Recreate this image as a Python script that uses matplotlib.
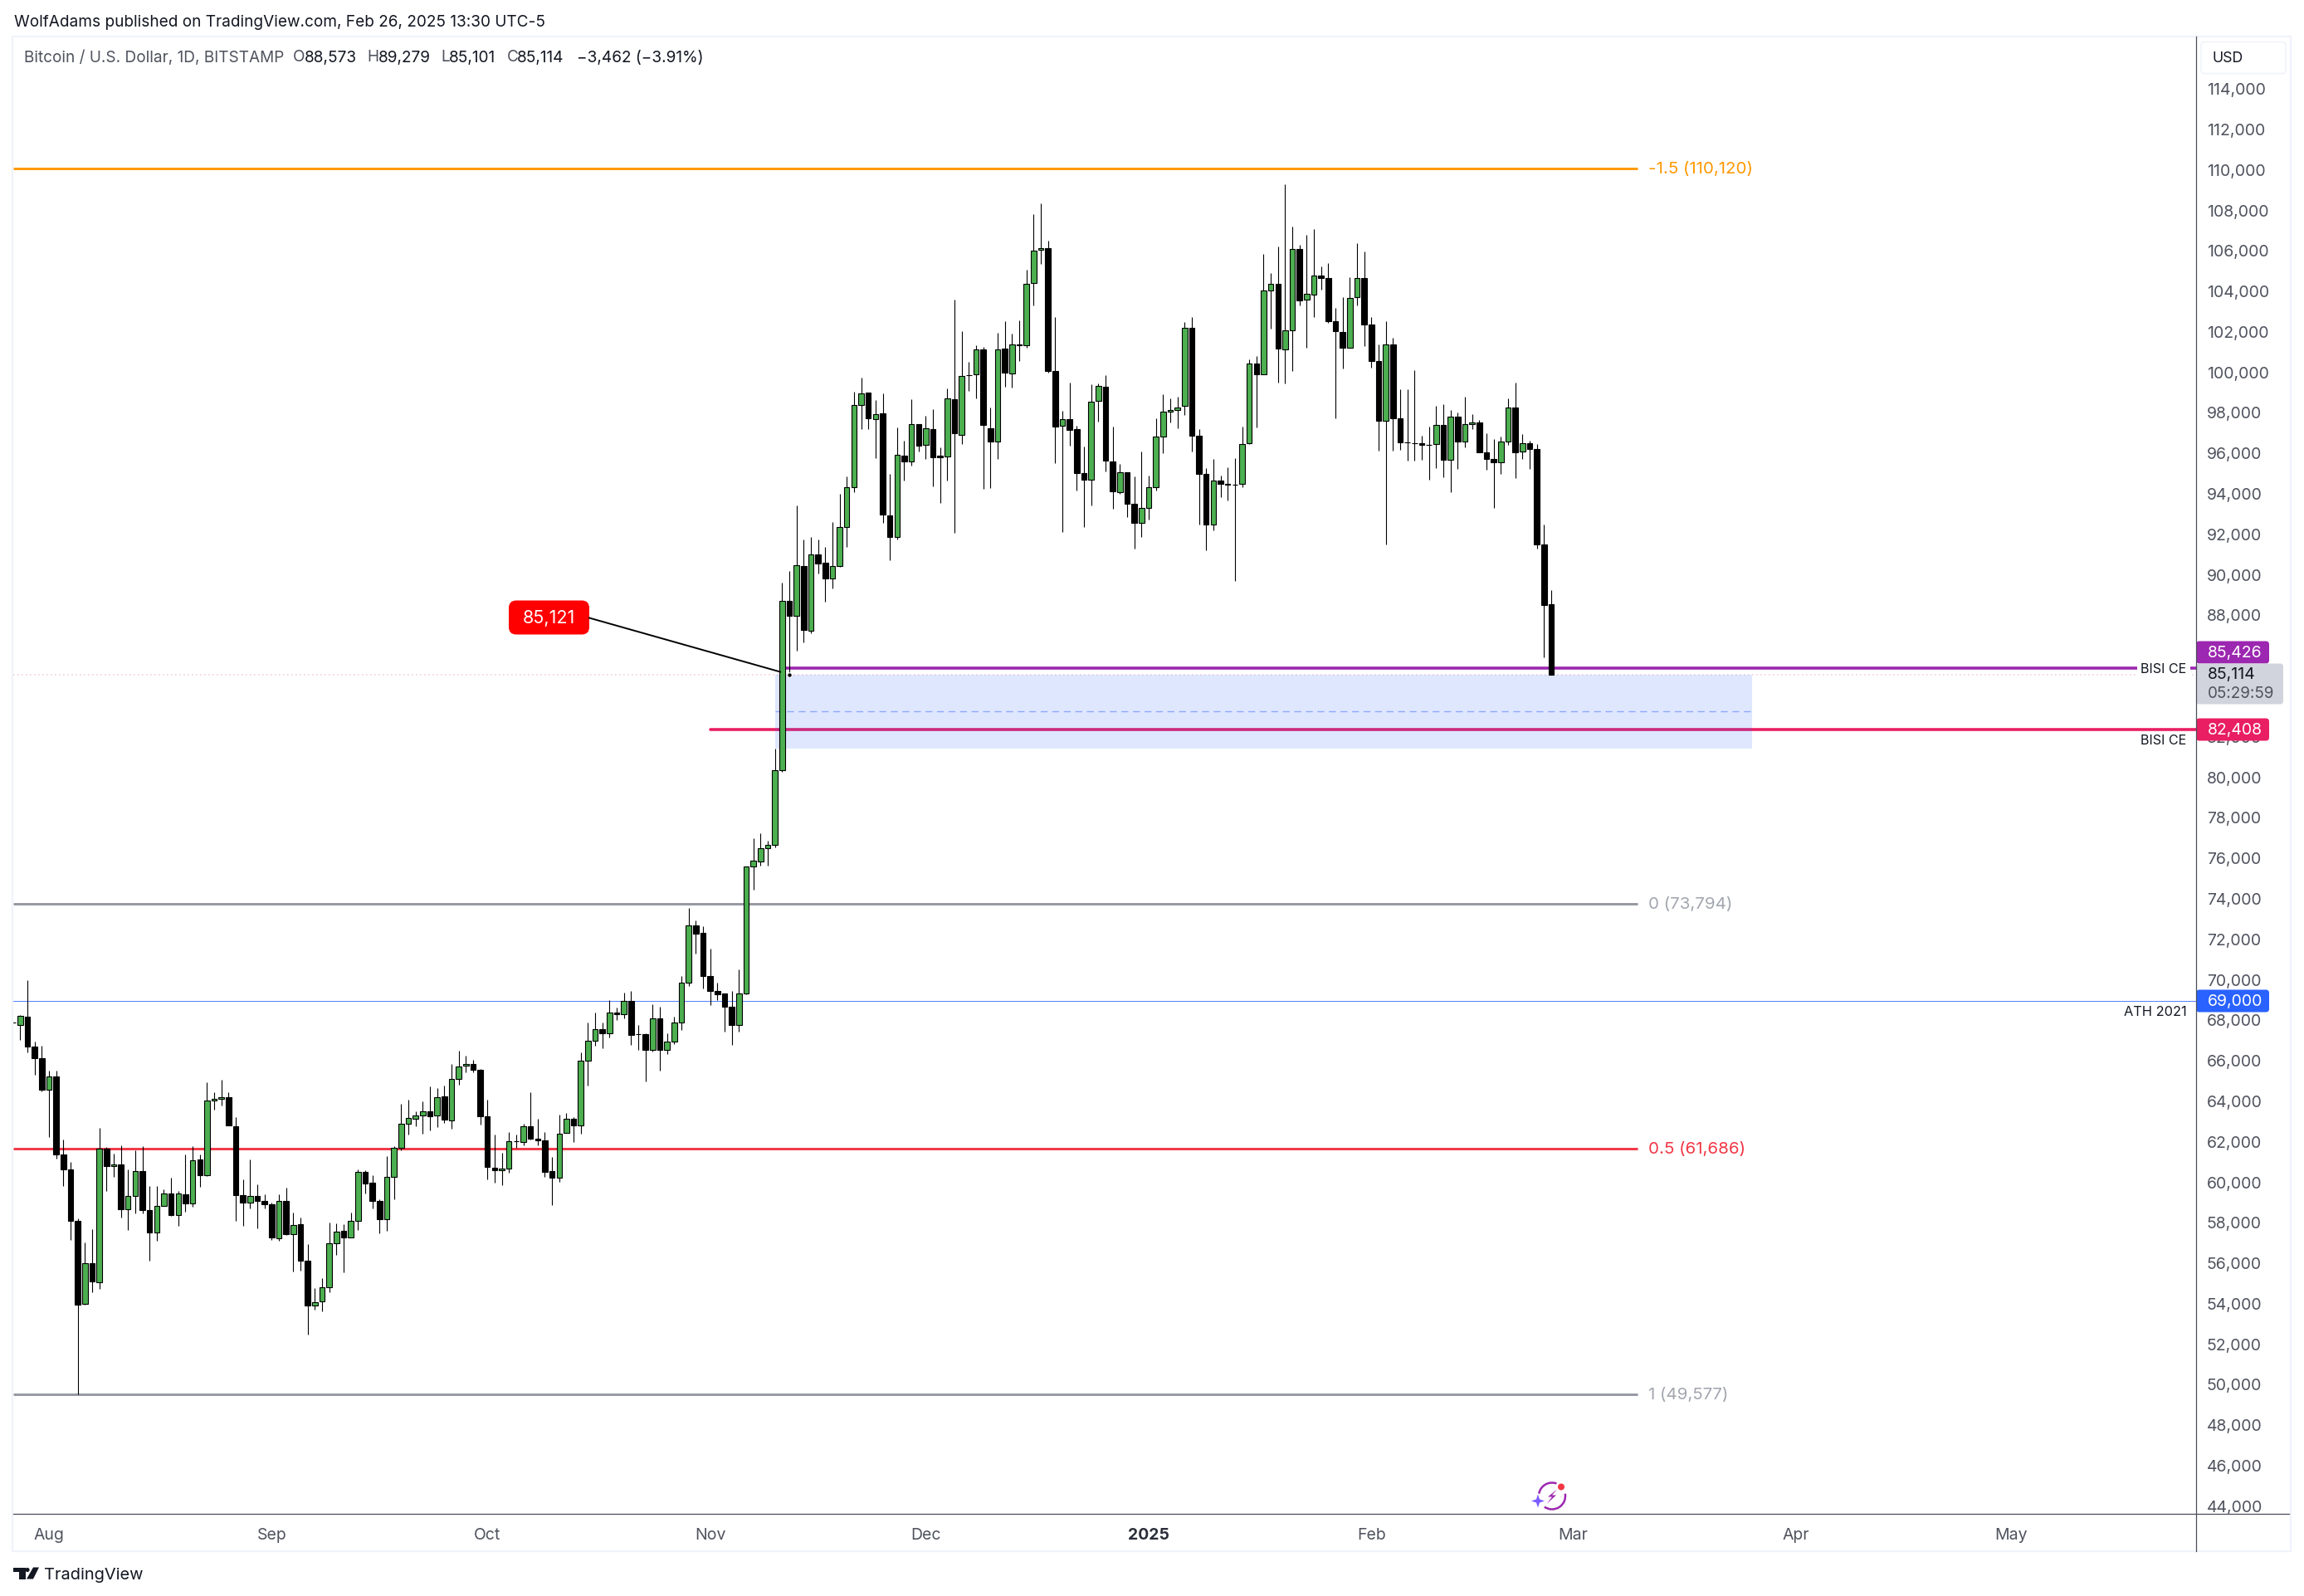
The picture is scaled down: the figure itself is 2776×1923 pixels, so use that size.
import numpy as np
import pandas as pd
import matplotlib
matplotlib.use('Agg')
import matplotlib.pyplot as plt
import matplotlib.dates as mdates
from matplotlib.patches import FancyBboxPatch, Rectangle, Arc, Circle, Polygon

plt.rcParams['font.family'] = ['Inter', 'DejaVu Sans']

W, H = 2776, 1924
SHIFT = 1.5  # whole layout sits this many pixels lower than first measured

# daily candles, the first one is cut off by the left edge of the pane
opens = [67930,
    67810,68230,66750,66180,64610,65280,61400,60670,58130,54040,
    56040,55090,61720,60840,60920,58700,59360,60600,58660,57560,
    58870,59480,58420,59440,58990,61160,60380,64070,64150,64240,
    62810,59410,59040,59360,59140,58970,57270,59120,57470,57960,
    56160,53950,54160,54840,57030,57640,57320,58140,60550,60020,
    59120,58220,60310,61740,62930,63170,63340,63560,63340,64300,
    63090,65160,65800,65890,65610,63310,60770,60630,60720,62080,
    62040,62820,62200,62120,60610,60270,62490,63190,62860,66040,
    67030,67610,67400,68430,68340,69010,67370,67370,66580,68150,
    66580,67000,67930,69910,72740,72340,70210,69470,69350,68720,
    67820,69370,75650,75880,76540,76710,80390,88750,88020,90490,
    87290,91060,90650,89870,90470,92410,94380,98440,99030,97740,
    98030,92990,91920,95940,95650,97500,96470,97250,95910,95900,
    98730,96960,99920,99940,101180,97290,96640,101230,100000,101430,
    101390,104460,106090,106180,100130,97400,97740,97250,95080,94740,
    98630,99340,95650,94120,95120,93560,92610,93360,94380,96870,
    98110,98190,98400,102250,96920,95040,92520,94710,94550,94500,
    94530,96550,100490,99940,104090,104420,101190,102130,106140,103640,
    103890,104830,104710,102580,102050,101270,103770,104710,102410,100610,
    97660,101430,97780,96600,96550,96530,96470,96500,97460,95730,
    97870,96620,97480,97580,96080,95780,95600,96620,98320,96130,
    96550,96270,91530,88573]
highs = [67930,
    68320,70020,67010,66790,65560,65560,62150,61060,58250,57050,
    57740,62740,61770,61470,61880,60690,61600,61810,59870,59840,
    59700,60280,59630,61430,61840,61430,65000,64510,65120,64510,
    63240,60190,61180,59920,59430,59050,59430,59780,58530,58300,
    57000,54820,55310,58070,58030,57980,58560,60690,60650,60410,
    59220,61350,61810,63900,64140,63560,64020,64760,64680,64800,
    65870,66520,66280,66070,65650,64140,62380,61480,62510,62380,
    62940,64470,63190,62510,61280,63390,63450,63280,66470,67920,
    68410,67920,69020,68690,69390,69510,67790,67420,68820,68730,
    67380,68240,70210,73610,72960,72670,71600,69880,69350,69470,
    70540,75650,77020,77260,76930,81480,89650,90250,93490,91800,
    91900,91770,91440,92630,94060,94920,99100,99800,99030,98660,
    98990,95010,97330,96650,98730,97500,97880,98210,96320,99260,
    103640,102090,100580,101390,101280,98290,101980,102590,101940,102630,
    105130,107840,108370,106530,102760,98130,99520,97390,96400,99440,
    99480,99890,97350,95530,95120,94890,96120,94960,97760,98950,
    98740,98820,102510,102760,97260,95330,95780,94960,95370,95820,
    97350,100690,100860,105910,104930,106270,109340,107260,106350,106840,
    107140,105260,105420,103210,103740,104760,106430,106030,102760,101440,
    102550,101770,99190,99190,100170,96900,97350,98370,98490,98170,
    98080,98860,97960,97710,97020,96730,96860,98770,99520,96980,
    96650,96490,92510,89279]
lows = [67930,
    67090,66450,65340,64530,62270,61200,59850,57180,49580,53990,
    54600,54770,59600,60290,58320,57690,58490,58490,56160,57150,
    58870,58400,57880,58580,58820,59800,60330,63630,63830,62840,
    58120,57880,58750,57760,58760,57200,57150,57420,55620,55670,
    52540,53730,53650,54600,56450,55590,57320,57680,59480,58750,
    57510,57630,59190,61600,62390,62810,62440,62600,62770,62970,
    62680,64860,65470,65470,62890,60180,60020,59900,60510,61730,
    61850,62140,61850,60290,58910,60060,62490,62050,62460,64810,
    66770,66660,67190,68050,68130,66820,66580,65020,66490,65550,
    66370,66860,67560,69730,71330,69610,68790,69020,67480,66820,
    67480,69330,74490,75680,75680,76580,80310,85120,86300,86700,
    87160,90090,88710,89390,90420,91420,94120,97240,97240,95800,
    92610,90760,91790,94700,95430,96130,95760,94410,93590,94700,
    92120,96490,99120,98740,94290,94330,95760,99330,99290,100620,
    101250,103340,105380,100020,95560,92160,96420,94210,92400,93470,
    97610,95150,93300,94040,92890,91340,91910,92770,94210,96050,
    97570,97280,97930,96130,92520,91250,92240,93860,93710,89750,
    94370,96500,97320,99940,102220,99530,99490,100110,103340,101250,
    102770,104120,102480,97770,100230,101270,103340,101340,100270,96170,
    91540,96170,96210,95680,95680,95720,94740,95310,94860,94120,
    95270,96340,97240,96090,95230,93340,95020,96460,94820,95760,
    95270,91340,85950,85101]
closes = [67930,
    68270,66750,66160,64610,65280,61400,60670,58120,53990,56040,
    55130,61700,60840,60920,58700,59360,60600,58660,57560,58870,
    59480,58410,59480,58990,61130,60380,64090,64150,64240,62850,
    59390,59020,59360,59100,58950,57300,59120,57470,57930,56160,
    53940,54110,54840,57030,57620,57300,58140,60550,60000,59100,
    58200,60290,61740,62930,63220,63350,63560,63300,64250,63130,
    65160,65770,65890,65590,63300,60800,60630,60730,62080,62080,
    62820,62190,62110,60550,60270,62450,63190,62850,66060,67040,
    67610,67400,68430,68340,69010,67310,67370,66580,68150,66580,
    67000,67940,69910,72740,72310,70210,69490,69320,68710,67810,
    69380,75650,75920,76540,76710,80400,88750,88020,90520,87320,
    91060,90600,89870,90490,92410,94370,98440,99010,97770,97990,
    93020,91910,95980,95640,97500,96420,97290,95840,95840,98770,
    97030,99870,99920,101180,97440,96620,101180,100020,101420,101380,
    104420,106060,106180,100130,97360,97740,97200,95070,94740,98590,
    99370,95680,94160,95120,93550,92610,93340,94370,96870,98100,
    98180,98320,102250,96910,95020,92520,94710,94530,94480,94500,
    96510,100490,99940,104090,104420,101210,102130,106140,103590,103930,
    104830,104700,102560,102070,101250,103730,104710,102400,100600,97650,
    101430,97770,96580,96590,96550,96460,96470,97460,95720,97870,
    96620,97500,97580,96090,95760,95600,96640,98320,96090,96550,
    96250,91540,88570,85114]

fib_levels = [110120, 73794, 61686, 49577]
fib_labels = ['-1.5 (110,120)', '0 (73,794)', '0.5 (61,686)', '1 (49,577)']
fib_colors = ['#FF9800', '#9598A1', '#F23645', '#9598A1']
fib_text_colors = ['#FF9800', '#A3A6AF', '#F23645', '#A3A6AF']

ath_level = 69000
last_price = 85114
bisi_upper = 85426
bisi_lower = 82408
zone_top = 85110
zone_bottom = 81470
zone_mid = 83320
wick_low = 85121

price_ticks = list(range(44000, 116000, 2000))
hidden_ticks = [84000, 86000]  # covered by the price tags
month_ticks = ['2024-08-01', '2024-09-01', '2024-10-01', '2024-11-01', '2024-12-01',
               '2025-01-01', '2025-02-01', '2025-03-01', '2025-04-01', '2025-05-01']
month_labels = ['Aug', 'Sep', 'Oct', 'Nov', 'Dec', '2025', 'Feb', 'Mar', 'Apr', 'May']

opens, highs, lows, closes = map(np.array, (opens, highs, lows, closes))
dates = pd.date_range('2024-07-27', periods=len(opens))
x = mdates.date2num(dates)
day0 = x[1]

fig = plt.figure(figsize=(W / 100, H / 100), dpi=100, facecolor='white')
ax = fig.add_axes([16 / W, (H - 1823 - SHIFT) / H, (2645.7 - 16) / W, (1823 - 43) / H])
ax.set_xlim(day0 - 0.958, day0 + 302.7)
ax.set_ylim(43687, 116650)

left, right = ax.get_xlim()

# levels sit under the candles, the zone is blended over the pink line
ax.plot([left, right], [ath_level, ath_level], color='#2962FF', lw=0.72, alpha=0.8, zorder=1)
ax.plot([left, right], [last_price, last_price], color='#F2D3D6', lw=1.2, ls=(0, (1, 2)), zorder=1)
fib_end = mdates.date2num(pd.Timestamp('2025-03-10'))
for lvl, c, lab, tc in zip(fib_levels, fib_colors, fib_labels, fib_text_colors):
    ax.plot([left, fib_end], [lvl, lvl], color=c, lw=2.1, solid_capstyle='butt', zorder=1)
    ax.text(fib_end + 1.5, lvl, lab, color=tc, fontsize=14.8, va='center', ha='left')

ax.plot([day0 + 96, right], [bisi_lower, bisi_lower], color='#E91E63', lw=2.6, solid_capstyle='round', zorder=1)
ax.plot([day0 + 106, right], [bisi_upper, bisi_upper], color='#9C27B0', lw=2.6, solid_capstyle='butt', zorder=1)

zone_l, zone_r = day0 + 105, day0 + 241
ax.add_patch(Rectangle((zone_l, zone_bottom), zone_r - zone_l, zone_top - zone_bottom,
                       facecolor='#2962FF', alpha=0.15, edgecolor='none', zorder=2))
ax.plot([zone_l, zone_r], [zone_mid, zone_mid], color='#8FA8F8', lw=1, ls=(0, (6, 4)), zorder=2)

up = closes > opens
ax.vlines(x, lows, highs, color='black', lw=0.8, zorder=3)
ax.bar(x[up], (closes - opens)[up], bottom=opens[up], width=0.76, color='#4CAF50',
       edgecolor='black', linewidth=0.8, zorder=4)
ax.bar(x[~up], (closes - opens)[~up], bottom=opens[~up], width=0.76, color='black',
       edgecolor='black', linewidth=0.8, zorder=4)

ax.plot(day0 + 107, wick_low, 'o', color='black', ms=4, mec='white', mew=0.8, zorder=5)

ax.yaxis.tick_right()
ax.set_yticks(price_ticks)
ax.set_yticklabels(['' if p in hidden_ticks else f'{p:,}' for p in price_ticks], va='center')
ax.set_xticks(mdates.date2num(pd.to_datetime(month_ticks)))
ax.set_xticklabels(month_labels)
ax.tick_params(axis='both', length=0, labelsize=14, labelcolor='#50535E')
ax.tick_params(axis='y', pad=9.5)
ax.tick_params(axis='x', pad=12)
ax.get_xticklabels()[5].set_fontweight('bold')
ax.get_xticklabels()[5].set_color('#2A2E39')
for s in ax.spines.values():
    s.set_visible(False)

# everything around the pane is laid out in image pixels
ov = fig.add_axes([0, 0, 1, 1], zorder=10)
ov.set_xlim(0, W)
ov.set_ylim(H - SHIFT, -SHIFT)
ov.axis('off')
ov.patch.set_alpha(0)

ov.add_patch(Rectangle((15, 43), 2745, 1825, fill=False, edgecolor='#F0F3FA', lw=1.6))
ov.plot([16, 2758], [1823, 1823], color='#4A4E5A', lw=0.9)
ov.plot([2645.7, 2645.7], [43, 1868], color='#4A4E5A', lw=0.9)


def tag(x0, y0, x1, y1, color, text, text_color='white'):
    ov.add_patch(FancyBboxPatch((x0, y0), x1 - x0, y1 - y0, boxstyle='round,pad=0,rounding_size=4',
                                facecolor=color, edgecolor='none'))
    if text:
        ov.text(2660, (y0 + y1) / 2, text, color=text_color, fontsize=14, va='center', ha='left')


tag(2646, 772, 2734, 799, '#9C27B0', '85,426')
tag(2646, 799, 2751, 848, '#D1D4DC', '')
ov.text(2660, 812, '85,114', color='#131722', fontsize=14, va='center', ha='left')
ov.text(2660, 835, '05:29:59', color='#50535E', fontsize=13.6, va='center', ha='left')
tag(2646, 865, 2734, 892, '#E91E63', '82,408')
tag(2646, 1192, 2734, 1219, '#2962FF', '69,000')

ov.add_patch(FancyBboxPatch((2652, 50), 102, 38, boxstyle='round,pad=0,rounding_size=4',
                            facecolor='white', edgecolor='#F0F3FA', lw=1.2))
ov.text(2666, 69, 'USD', color='#131722', fontsize=12.8, va='center', ha='left')

# labels on the level lines
ov.text(2607, 805, 'BISI CE', color='#131722', fontsize=11.6, va='center', ha='center',
        bbox=dict(facecolor='white', edgecolor='none', pad=3))
ov.text(2607, 891, 'BISI CE', color='#131722', fontsize=11.6, va='center', ha='center')
ov.text(2635, 1218, 'ATH 2021', color='#131722', fontsize=11.8, va='center', ha='right')

# callout with its leader
ov.plot([710, 940], [744, 809], color='black', lw=1.4, zorder=3)
ov.add_patch(FancyBboxPatch((613, 723), 97, 41, boxstyle='round,pad=0,rounding_size=9',
                            facecolor='#FF0000', edgecolor='none'))
ov.text(661.5, 743.5, '85,121', color='white', fontsize=15.5, va='center', ha='center')

# header and legend
ov.text(17, 25, 'WolfAdams published on TradingView.com, Feb 26, 2025 13:30 UTC-5',
        color='#131722', fontsize=13.7, va='center', ha='left')
ov.text(29, 68, 'Bitcoin / U.S. Dollar, 1D, BITSTAMP', color='#50535E', fontsize=13.7, va='center', ha='left')
for xp, s, c in [(353, 'O', '#50535E'), (367, '88,573', '#131722'), (442, 'H', '#50535E'),
                 (456, '89,279', '#131722'), (531, 'L', '#50535E'), (541, '85,101', '#131722'),
                 (611, 'C', '#50535E'), (623, '85,114', '#131722'),
                 (695, '\u22123,462 (\u22123.91%)', '#131722')]:
    ov.text(xp, 68, s, color=c, fontsize=13.7, va='center', ha='left')

# bolt badge near the time axis
ov.add_patch(Arc((1870, 1802), 32, 32, theta1=190, theta2=290, color='#9C27B0', lw=1.8))
ov.add_patch(Arc((1870, 1802), 32, 32, theta1=-10, theta2=125, color='#9C27B0', lw=1.8))
ov.add_patch(Polygon([(1876, 1794), (1865, 1803), (1870, 1803), (1864, 1811), (1875, 1801), (1870, 1801)],
                     facecolor='#9C27B0', edgecolor='none'))
ov.add_patch(Circle((1881, 1791), 4, facecolor='#F23645', edgecolor='none'))
ov.add_patch(Polygon([(1853, 1800), (1855, 1806), (1861, 1808), (1855, 1810), (1853, 1816),
                      (1851, 1810), (1845, 1808), (1851, 1806)], facecolor='#7B5CFF', edgecolor='none'))

# logo
ov.add_patch(Polygon([(16, 1888), (31, 1888), (31, 1902), (23, 1902), (23, 1893), (16, 1893)],
                     facecolor='#131722', edgecolor='none'))
ov.add_patch(Circle((33, 1891), 2.6, facecolor='#131722', edgecolor='none'))
ov.add_patch(Polygon([(40, 1888), (47, 1888), (40, 1902), (32, 1902)], facecolor='#131722', edgecolor='none'))
ov.text(53, 1897, 'TradingView', color='#131722', fontsize=14.4, va='center', ha='left')

fig.savefig('out.png', dpi=100)
